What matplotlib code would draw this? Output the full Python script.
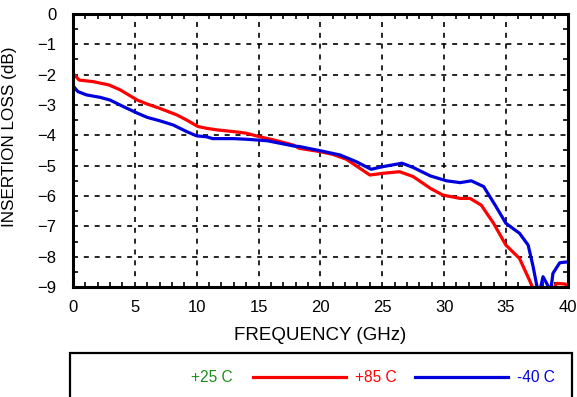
import numpy as np
import matplotlib.pyplot as plt
from matplotlib.lines import Line2D
from matplotlib.patches import Rectangle

plt.rcParams['font.family'] = ['Liberation Sans', 'DejaVu Sans']

# Dados (frequência em GHz, perda em dB)
freq_85 = [0.0, 0.5, 1.6, 2.9, 3.8, 5.2, 6.0, 7.0, 8.4, 9.2, 10.1, 10.8, 11.6, 13.0, 14.0,
           15.1, 16.2, 17.8, 18.3, 20.0, 21.0, 22.1, 23.2, 24.0, 25.1, 26.4, 27.5, 28.9,
           29.9, 31.3, 32.1, 33.0, 34.0, 35.0, 36.1, 36.9, 37.1, 37.5, 38.5, 39.1, 39.8, 40.0]
loss_85 = [-1.96, -2.18, -2.23, -2.34, -2.5, -2.84, -2.97, -3.11, -3.33, -3.5, -3.71, -3.77,
           -3.82, -3.88, -3.93, -4.05, -4.15, -4.32, -4.43, -4.54, -4.63, -4.79, -5.09, -5.31,
           -5.25, -5.2, -5.36, -5.75, -5.97, -6.08, -6.08, -6.3, -6.9, -7.62, -8.06, -8.77,
           -8.96, -9.4, -9.3, -8.88, -8.9, -9.05]

freq_m40 = [0.0, 0.4, 1.1, 2.2, 3.0, 4.1, 5.2, 6.0, 7.0, 8.1, 9.2, 10.0, 10.8, 11.3, 13.0,
            14.0, 15.7, 16.7, 17.8, 18.3, 20.0, 21.6, 22.9, 24.1, 25.1, 26.6, 27.5, 28.9,
            30.2, 31.3, 32.2, 33.2, 34.2, 35.0, 36.1, 36.8, 37.2, 37.5, 37.7, 38.0, 38.4,
            38.6, 38.8, 39.35, 40.0]
loss_m40 = [-2.37, -2.56, -2.67, -2.75, -2.84, -3.06, -3.27, -3.41, -3.52, -3.66, -3.88,
            -4.02, -4.05, -4.11, -4.11, -4.13, -4.18, -4.26, -4.35, -4.37, -4.51, -4.65,
            -4.87, -5.12, -5.03, -4.92, -5.06, -5.34, -5.5, -5.56, -5.5, -5.69, -6.35, -6.9,
            -7.23, -7.62, -8.33, -8.96, -9.2, -8.66, -8.96, -9.2, -8.55, -8.2, -8.17]

legenda = ["+25 C", "+85 C", "-40 C"]
cores_legenda = ["#1e8c1e", "#ff0000", "#0000dd"]

fig = plt.figure(figsize=(5.77, 3.97), dpi=100)
ax = fig.add_axes([0.1265, 0.277, 0.8575, 0.688])

ax.plot(freq_85, loss_85, color='#ff0000', lw=2.3, zorder=3)
ax.plot(freq_m40, loss_m40, color='#0000dd', lw=2.3, zorder=3)

ax.set_xlim(0, 40)
ax.set_ylim(-9, 0)
ax.set_xticks(np.arange(0, 41, 5))
ax.set_yticks(np.arange(-9, 1, 1))
ax.set_xticks(np.arange(0, 41, 1), minor=True)
ax.set_yticks(np.arange(-9, 0.1, 0.5), minor=True)
ax.tick_params(which='both', direction='in', top=True, right=True, color='black')
ax.tick_params(which='major', length=0, labelsize=12)
ax.tick_params(axis='x', which='major', pad=9)
ax.tick_params(axis='y', which='major', pad=12)
ax.tick_params(which='minor', length=3.5, width=1.2)
ax.grid(True, which='major', color='black', linestyle=(0, (3, 3.5)), linewidth=1.2)
for s in ax.spines.values():
    s.set_linewidth(2.2)
    s.set_zorder(4)

ax.set_xlabel("FREQUENCY (GHz)", fontsize=13.5, labelpad=9)
ax.set_ylabel("INSERTION LOSS (dB)", fontsize=12.3)
ax.yaxis.set_label_coords(-0.113, 0.55)

# Caixa da legenda desenhada na figura
W, H = 577, 397
fig.patches.append(Rectangle((70 / W, -0.05), 502 / W, 0.05 + 44 / H,
                             transform=fig.transFigure, fill=False,
                             edgecolor='black', linewidth=1.6))
y_leg = 1 - 377 / H
pos_texto = [191, 355, 517]
pos_linha = [None, (253, 346), (415, 508)]
for nome, cor, xt, xl in zip(legenda, cores_legenda, pos_texto, pos_linha):
    if xl is not None:
        fig.lines.append(Line2D([xl[0] / W, xl[1] / W], [y_leg, y_leg], transform=fig.transFigure,
                                color=cor, lw=2.3))
    fig.text(xt / W, y_leg, nome, color=cor, fontsize=11.2, va='center', ha='left')

fig.savefig("out.png", dpi=100)
